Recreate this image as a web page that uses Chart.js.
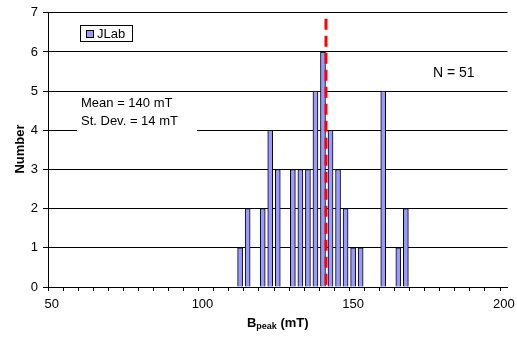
<!DOCTYPE html>
<html>
<head>
<meta charset="utf-8">
<script src="https://cdn.jsdelivr.net/npm/chart.js@4/dist/chart.umd.min.js"></script>
<style>
  html, body { margin: 0; padding: 0; background: #fff; }
  #wrap { width: 517px; height: 339px; }
</style>
</head>
<body>
<div id="wrap"><canvas id="histCanvas" width="517" height="339"></canvas></div>
<script>
// histogram bins (bin centre, mT) and counts
const bins = [112.5, 115, 120, 122.5, 125, 130, 132.5, 135, 137.5, 140, 142.5, 145, 147.5, 150, 152.5, 160, 165, 167.5];
const counts = [1, 2, 2, 4, 3, 3, 3, 3, 5, 6, 4, 3, 2, 1, 1, 5, 1, 2];
const xTickLabels = ['50', '100', '150', '200'];
const meanLineX = 141;
const meanLineTop = 6.85;
const seriesName = 'JLab';
const notes = ['Mean = 140 mT', 'St. Dev. = 14 mT'];
const countNote = 'N = 51';

const FONT = "'Liberation Sans', Arial, sans-serif";
Chart.defaults.font.family = FONT;
Chart.defaults.color = '#000';

const BAR_COLOR = '#9999ff';

// legend, text boxes and axis titles (Excel style)
const annotations = {
    id: 'annotations',
    afterDraw(chart) {
        const ctx = chart.ctx;
        ctx.save();

        // legend box
        ctx.fillStyle = '#fff';
        ctx.fillRect(80.5, 25.5, 52, 16);
        ctx.strokeStyle = '#000';
        ctx.lineWidth = 1;
        ctx.strokeRect(80.5, 25.5, 52, 16);
        ctx.fillStyle = BAR_COLOR;
        ctx.fillRect(86.5, 30.5, 7, 7);
        ctx.strokeRect(86.5, 30.5, 7, 7);
        ctx.fillStyle = '#000';
        ctx.font = '13px ' + FONT;
        ctx.textBaseline = 'middle';
        ctx.textAlign = 'left';
        ctx.fillText(seriesName, 97, 34);

        // mean / st. dev. box
        ctx.fillStyle = '#fff';
        ctx.fillRect(77, 93, 120, 41);
        ctx.fillStyle = '#000';
        ctx.fillText(notes[0], 81, 103);
        ctx.fillText(notes[1], 81, 121.5);

        // N = 51
        ctx.font = '14px ' + FONT;
        ctx.fillText(countNote, 433, 73);

        // y title
        ctx.save();
        ctx.translate(20, 149);
        ctx.rotate(-Math.PI / 2);
        ctx.font = 'bold 13px ' + FONT;
        ctx.textAlign = 'center';
        ctx.fillText('Number', 0, 0);
        ctx.restore();

        // x title with subscript
        const area = chart.chartArea;
        const cx = (area.left + area.right) / 2;
        const big = 'bold 13px ' + FONT, small = 'bold 9px ' + FONT;
        ctx.font = big;
        const wB = ctx.measureText('B').width;
        const wRest = ctx.measureText(' (mT)').width;
        ctx.font = small;
        const wSub = ctx.measureText('peak').width;
        let x = cx - (wB + wSub + wRest) / 2;
        const y = 323;
        ctx.textAlign = 'left';
        ctx.font = big;
        ctx.fillText('B', x, y);
        x += wB;
        ctx.font = small;
        ctx.fillText('peak', x, y + 4);
        x += wSub;
        ctx.font = big;
        ctx.fillText(' (mT)', x, y);

        ctx.restore();
    }
};

const ctx = document.getElementById('histCanvas').getContext('2d');
new Chart(ctx, {
    type: 'bar',
    data: {
        datasets: [
            {
                type: 'line',
                label: 'mean',
                data: [{ x: meanLineX, y: meanLineTop }, { x: meanLineX, y: 0 }],
                borderColor: '#ff0000',
                borderWidth: 3,
                borderDash: [11, 6],
                pointRadius: 0,
                order: 0
            },
            {
                label: seriesName,
                data: bins.map((b, i) => ({ x: b, y: counts[i] })),
                backgroundColor: BAR_COLOR,
                borderColor: '#000',
                borderWidth: 1,
                barThickness: 5,
                order: 1
            }
        ]
    },
    options: {
        responsive: false,
        animation: false,
        devicePixelRatio: 1,
        layout: { padding: { top: 11, right: 8, left: 0, bottom: 0 } },
        plugins: {
            legend: { display: false },
            tooltip: { enabled: false }
        },
        scales: {
            x: {
                type: 'linear',
                min: 48.75,
                max: 201.25,
                offset: false,
                afterBuildTicks(axis) {
                    const t = [];
                    for (let v = 48.75; v < 201; v += 5) t.push({ value: v });
                    axis.ticks = t;
                },
                afterFit(axis) { axis.height = 52; },
                grid: {
                    offset: false,
                    drawOnChartArea: false,
                    drawTicks: true,
                    tickLength: 4,
                    color: '#000'
                },
                border: { color: '#000', width: 1 },
                ticks: {
                    autoSkip: false,
                    maxRotation: 0,
                    labelOffset: 3.8,
                    padding: 6,
                    font: { size: 13 },
                    callback: (v, i) => (i % 10 === 0 ? xTickLabels[i / 10] : '')
                }
            },
            y: {
                min: 0,
                max: 7,
                afterFit(axis) { axis.width = 48; },
                grid: {
                    color: '#000',
                    lineWidth: 1,
                    drawTicks: true,
                    tickLength: 5
                },
                border: { color: '#000', width: 1 },
                ticks: {
                    stepSize: 1,
                    padding: 5,
                    font: { size: 13 }
                }
            }
        }
    },
    plugins: [annotations]
});
</script>
</body>
</html>
